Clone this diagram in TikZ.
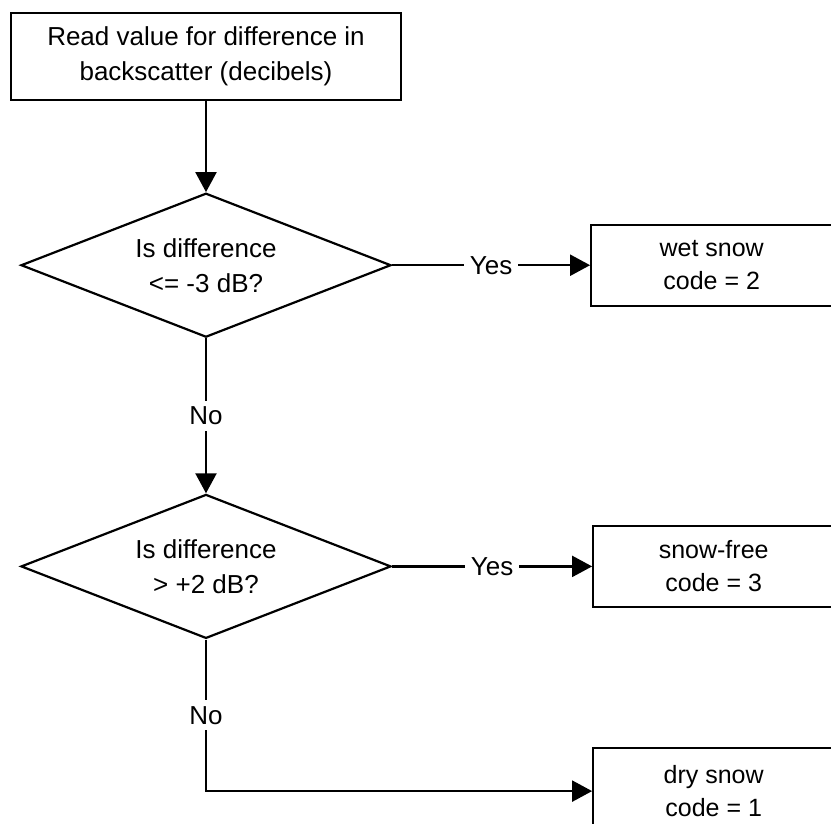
\documentclass[tikz,border=0pt]{standalone}
\usepackage{fontspec}
\setmainfont{Liberation Sans}
\usetikzlibrary{shapes.geometric, arrows.meta, positioning}

\begin{document}
\begin{tikzpicture}[
        x=1pt, y=1pt,
        process/.style={draw, line width=2.2pt, fill=white, minimum width=390pt, minimum height=87pt, align=center, inner sep=0pt},
        decision/.style={diamond, aspect=2.57, draw, line width=2.2pt, fill=white, minimum width=370pt, minimum height=144pt, align=center, inner sep=0pt},
        result/.style={draw, line width=2.2pt, fill=white, minimum width=241pt, minimum height=81pt, align=center, inner sep=0pt, font=\fontsize{25}{33}\selectfont},
        flow/.style={-{Triangle[length=20pt, width=21pt]}, line width=2.2pt},
        lbl/.style={fill=white, inner sep=6pt},
        font=\fontsize{26}{35}\selectfont
    ]
        \useasboundingbox (0,0) rectangle (831,-823);
        \clip (0,0) rectangle (831,-823);

        \node[process] (read) at (206,-56.5) {Read value for difference in\\backscatter (decibels)};
        \node[decision, below=91pt of read] (d1) {Is difference\\<= -3 dB?};
        \node[result, right=198pt of d1] (wet) {wet snow\\code = 2};
        \draw[flow] (read) -- (d1);
        \draw[flow] (d1) -- node[lbl] {Yes} (wet);

        \node[decision, below=155pt of d1] (d2) {Is difference\\> +2 dB?};
        \node[result, right=200pt of d2] (free) {snow-free\\code = 3};
        \draw[flow] (d1) -- node[lbl] {No} (d2);
        \draw[flow] (d2) -- node[lbl] {Yes} (free);

        \node[result, minimum height=86pt, below=139pt of free] (dry) {dry snow\\code = 1};
        \draw[flow] (d2.south) |- node[lbl, pos=0.25] {No} (dry.west);
    \end{tikzpicture}
\end{document}
